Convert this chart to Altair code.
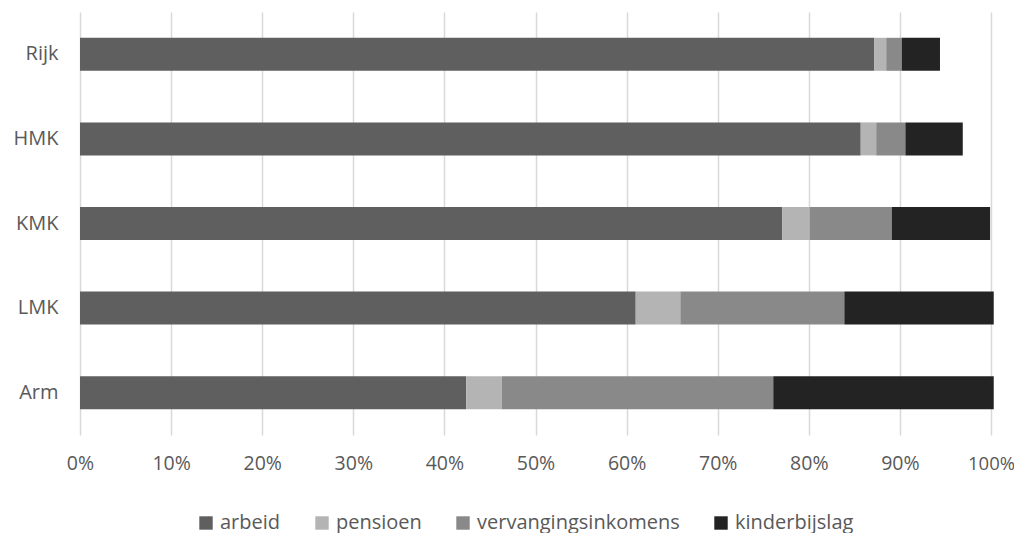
import altair as alt
import pandas as pd

groups = ["Rijk", "HMK", "KMK", "LMK", "Arm"]
series = ["arbeid", "pensioen", "vervangingsinkomens", "kinderbijslag"]
arbeid = [87.2, 85.7, 77.1, 61.0, 42.4]
pensioen = [1.3, 1.7, 3.0, 4.9, 3.9]
vervangingsinkomens = [1.7, 3.2, 9.0, 18.0, 29.8]
kinderbijslag = [4.2, 6.3, 10.8, 16.4, 24.2]
colors = ["#5f5f5f", "#b4b4b4", "#898989", "#232323"]
ticks = [0, 0.1, 0.2, 0.3, 0.4, 0.5, 0.6, 0.7, 0.8, 0.9, 1.0]

rows = []
vals = [arbeid, pensioen, vervangingsinkomens, kinderbijslag]
for si, s in enumerate(series):
    for gi, g in enumerate(groups):
        rows.append({"groep": g, "reeks": s, "waarde": vals[si][gi] / 100.0, "volgorde": si})
df = pd.DataFrame(rows)

FONT = "Open Sans"
TXT = "#595959"
FS = 20

chart = alt.Chart(df).mark_bar(clip=False).encode(
    y=alt.Y("groep:N", sort=groups,
            scale=alt.Scale(paddingInner=0.61, paddingOuter=0.305),
            axis=alt.Axis(title=None, domain=False, ticks=False, labelPadding=22,
                          labelFontSize=FS, labelColor=TXT, labelFont=FONT, grid=False)),
    x=alt.X("waarde:Q", stack="zero",
            scale=alt.Scale(domain=[0, 1], nice=False, clamp=False),
            axis=alt.Axis(title=None, values=ticks, format=".0%", domain=False,
                          ticks=False, labelPadding=19,
                          labelFontSize={"condition": {"test": "datum.value >= 1", "value": 18.5},
                                         "value": 19.5},
                          labelColor=TXT, labelFont=FONT, labelFlush=False, grid=True,
                          gridColor="#d9d9d9", gridWidth=1.5)),
    color=alt.Color("reeks:N", sort=series,
                    scale=alt.Scale(domain=series, range=colors),
                    legend=alt.Legend(title=None, orient="none", direction="horizontal",
                                      legendX=116, legendY=501,
                                      symbolType="square", symbolSize=180, symbolStrokeWidth=0,
                                      labelFontSize=FS, labelColor=TXT, labelFont=FONT,
                                      labelLimit=0, columnPadding=31, labelOffset=4)),
    order=alt.Order("volgorde:Q", sort="ascending"),
).properties(
    width=911, height=423,
    padding={"left": 72, "top": 4, "right": 23, "bottom": 110},
    autosize=alt.AutoSizeParams(type="none"),
).configure_view(stroke=None)

chart.save("out.html", embed_options={"renderer": "svg", "actions": False})
